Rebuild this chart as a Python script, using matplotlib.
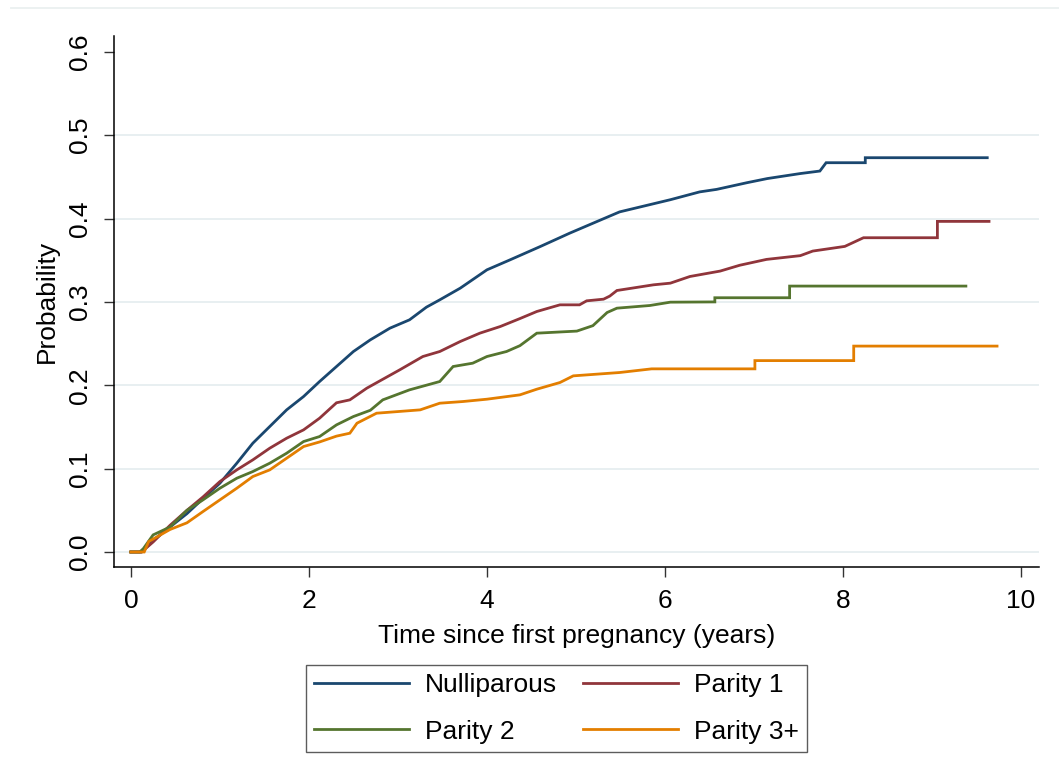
import matplotlib
matplotlib.use("Agg")
import matplotlib.pyplot as plt
from matplotlib.lines import Line2D

plt.rcParams['font.family'] = ['Liberation Sans', 'DejaVu Sans']

# Time (years) and cumulative probability for each group
t_null = [0, 0.12, 0.16, 0.25, 0.44, 0.63, 0.81, 1.0, 1.19, 1.37, 1.56, 1.75, 1.94, 2.12, 2.31,
          2.50, 2.69, 2.91, 3.13, 3.32, 3.47, 3.70, 4.0, 4.26, 4.6, 4.93, 5.27, 5.49, 6.06, 6.39,
          6.58, 6.92, 7.15, 7.52, 7.74, 7.81, 8.25, 8.25, 9.62]
p_null = [0, 0, 0.004, 0.014, 0.030, 0.046, 0.064, 0.0825, 0.1065, 0.1305, 0.1505, 0.1705, 0.1865,
          0.2045, 0.2225, 0.2405, 0.2545, 0.2685, 0.2785, 0.2937, 0.3025, 0.3165, 0.3385, 0.3505,
          0.3665, 0.3825, 0.398, 0.408, 0.4226, 0.432, 0.435, 0.443, 0.448, 0.454, 0.457, 0.467,
          0.467, 0.473, 0.473]

t_p1 = [0, 0.12, 0.25, 0.44, 0.63, 0.81, 1.0, 1.19, 1.37, 1.56, 1.75, 1.94, 2.12, 2.31, 2.46,
        2.65, 3.02, 3.28, 3.47, 3.70, 3.92, 4.15, 4.37, 4.56, 4.82, 5.04, 5.12, 5.31, 5.38, 5.46,
        5.87, 6.06, 6.28, 6.62, 6.84, 7.14, 7.52, 7.66, 8.02, 8.23, 9.06, 9.06, 9.64]
p_p1 = [0, 0, 0.012, 0.032, 0.050, 0.066, 0.0845, 0.0985, 0.1105, 0.1245, 0.1365, 0.1465, 0.1605,
        0.179, 0.1825, 0.1965, 0.2185, 0.2345, 0.2405, 0.2525, 0.2625, 0.2705, 0.280, 0.2885,
        0.2965, 0.2965, 0.3013, 0.3033, 0.307, 0.3137, 0.3205, 0.3225, 0.3305, 0.337, 0.344,
        0.351, 0.3555, 0.361, 0.3666, 0.377, 0.377, 0.3966, 0.3966]

t_p2 = [0, 0.10, 0.14, 0.25, 0.44, 0.63, 0.81, 1.0, 1.19, 1.37, 1.56, 1.75, 1.94, 2.12, 2.31,
        2.50, 2.69, 2.83, 3.13, 3.47, 3.62, 3.84, 4.0, 4.22, 4.37, 4.56, 5.01, 5.19, 5.35, 5.46,
        5.83, 6.06, 6.56, 6.56, 7.40, 7.40, 9.38]
p_p2 = [0, 0, 0.004, 0.0205, 0.030, 0.050, 0.0625, 0.0765, 0.0885, 0.0965, 0.1065, 0.1185, 0.1325,
        0.1385, 0.1525, 0.1625, 0.170, 0.1825, 0.1945, 0.2045, 0.2225, 0.2265, 0.2345, 0.2405,
        0.2475, 0.2625, 0.265, 0.2715, 0.2873, 0.2925, 0.2957, 0.2997, 0.300, 0.305, 0.305,
        0.319, 0.319]

t_p3 = [0, 0.15, 0.2, 0.44, 0.63, 0.81, 1.0, 1.19, 1.37, 1.56, 1.75, 1.94, 2.12, 2.31, 2.46,
        2.54, 2.76, 3.25, 3.47, 3.73, 4.0, 4.37, 4.56, 4.69, 4.82, 4.97, 5.49, 5.85, 7.01, 7.01,
        8.12, 8.12, 9.73]
p_p3 = [0, 0, 0.0125, 0.027, 0.035, 0.0485, 0.0625, 0.0765, 0.0905, 0.0985, 0.1125, 0.1265,
        0.132, 0.139, 0.1425, 0.1545, 0.1665, 0.1705, 0.1785, 0.1805, 0.1833, 0.1885, 0.1953,
        0.1993, 0.2033, 0.2113, 0.2153, 0.2197, 0.2197, 0.2296, 0.2296, 0.247, 0.247]

labels = ["Nulliparous", "Parity 1", "Parity 2", "Parity 3+"]
colors = ["#1a476f", "#90353b", "#55752f", "#e37e00"]
x_ticks = [0, 2, 4, 6, 8, 10]
y_ticks = [0.0, 0.1, 0.2, 0.3, 0.4, 0.5, 0.6]
y_ticklabels = ["0.0", "0.1", "0.2", "0.3", "0.4", "0.5", "0.6"]

FS = 19

fig = plt.figure(figsize=(10.59, 7.71), dpi=100)
ax = fig.add_axes([0.1076, 0.2646, 0.981 - 0.1076, 0.9533 - 0.2646])

for yv in y_ticks[:-1]:
    ax.axhline(yv, color="#e6eef0", lw=1.3, zorder=0)

series = [(t_null, p_null), (t_p1, p_p1), (t_p2, p_p2), (t_p3, p_p3)]
handles = []
for (t, p), lab, c in zip(series, labels, colors):
    h, = ax.plot(t, p, color=c, lw=2.0, label=lab, solid_joinstyle='miter')
    handles.append(h)

ax.set_xlim(-0.19, 10.2)
ax.set_ylim(-0.018, 0.619)
ax.set_xticks(x_ticks)
ax.set_yticks(y_ticks)
ax.set_yticklabels(y_ticklabels, rotation=90, va='center')
ax.tick_params(axis='both', direction='out', length=7.5, width=1, colors='#333333',
               labelsize=FS, labelcolor='black')
ax.tick_params(axis='y', pad=8)
ax.tick_params(axis='x', pad=8)
for s in ['top', 'right']:
    ax.spines[s].set_visible(False)
for s in ['left', 'bottom']:
    ax.spines[s].set_linewidth(1.1)
    ax.spines[s].set_color('black')

ax.set_xlabel("Time since first pregnancy (years)", fontsize=FS, labelpad=8)
ax.set_ylabel("Probability", fontsize=FS, labelpad=7)

order = [0, 2, 1, 3]
leg = fig.legend([handles[i] for i in order], [labels[i] for i in order],
                 loc='center', ncol=2, mode='expand',
                 bbox_to_anchor=(0.289, 0.0246, 0.473, 0.1129),
                 fontsize=FS, frameon=True, fancybox=False, edgecolor='#333333',
                 handlelength=3.6, handletextpad=0.6, columnspacing=1.6,
                 borderaxespad=0, borderpad=0.3, labelspacing=0.85)
leg.get_frame().set_linewidth(1.0)
for lh in leg.get_lines():
    lh.set_linewidth(2.0)

fig.add_artist(Line2D([0.01, 1.0], [1 - 8 / 771, 1 - 8 / 771], transform=fig.transFigure,
                      color='#eaf0f0', lw=1.3))

fig.savefig("out.png", dpi=100, facecolor='white')
